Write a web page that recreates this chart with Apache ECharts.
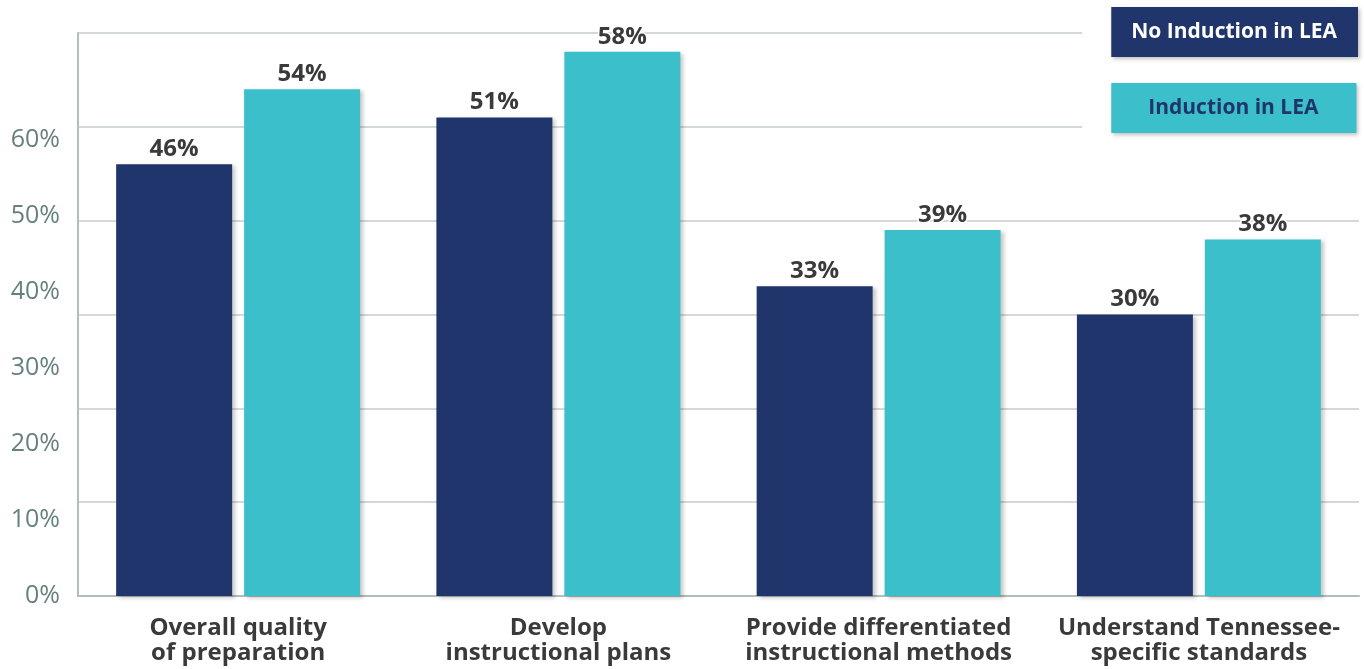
<!DOCTYPE html>
<html>
<head>
<meta charset="utf-8">
<script src="https://cdn.jsdelivr.net/npm/echarts@6/dist/echarts.min.js"></script>
<style>
html,body{margin:0;padding:0;background:#fff;}
#chart{width:1364px;height:669px;}
</style>
</head>
<body>
<div id="chart"></div>
<script>
const categories = [
  'Overall quality\nof preparation',
  'Develop\ninstructional plans',
  'Provide differentiated\ninstructional methods',
  'Understand Tennessee-\nspecific standards'
];
const seriesNames = ['No Induction in LEA', 'Induction in LEA'];
const noInduction = [46, 51, 33, 30];
const induction = [54, 58, 39, 38];
const yTickLabels = ['0%', '10%', '20%', '30%', '40%', '50%', '60%'];

const NAVY = '#1f356b';
const TEAL = '#3bbfcb';
const FONT = '"Open Sans", "Noto Sans", sans-serif';

const chart = echarts.init(document.getElementById('chart'));

const barLabel = {
  show: true,
  position: 'top',
  distance: 3,
  formatter: '{c}%',
  fontFamily: FONT,
  fontWeight: 'bold',
  fontSize: 24,
  color: '#3a3a3a',
  textBorderColor: '#fff',
  textBorderWidth: 3
};
const barShadow = {
  shadowBlur: 4,
  shadowOffsetX: 3,
  shadowOffsetY: 2,
  shadowColor: 'rgba(0,0,0,0.22)'
};

chart.setOption({
  backgroundColor: '#fff',
  animation: false,
  grid: { left: 78, right: 5, top: 33, bottom: 73, containLabel: false },
  legend: {
    orient: 'vertical',
    right: 0,
    top: 0,
    padding: [7, 6, 12, 24],
    backgroundColor: '#fff',
    itemGap: 26,
    icon: 'none',
    itemWidth: 0,
    itemHeight: 0,
    selectedMode: false,
    data: [
      {
        name: seriesNames[0],
        textStyle: {
          color: '#fff',
          backgroundColor: NAVY,
          padding: [15, 21, 15, 20],
          fontFamily: FONT, fontWeight: 'bold', fontSize: 21, lineHeight: 20,
          shadowBlur: 4, shadowOffsetX: 2, shadowOffsetY: 2, shadowColor: 'rgba(0,0,0,0.25)'
        }
      },
      {
        name: seriesNames[1],
        textStyle: {
          color: NAVY,
          backgroundColor: TEAL,
          padding: [15, 38, 15, 37],
          fontFamily: FONT, fontWeight: 'bold', fontSize: 21, lineHeight: 20,
          shadowBlur: 4, shadowOffsetX: 2, shadowOffsetY: 2, shadowColor: 'rgba(0,0,0,0.25)'
        }
      }
    ]
  },
  xAxis: {
    type: 'category',
    data: categories,
    axisLine: { show: true, lineStyle: { color: '#b3bdbc', width: 2 } },
    axisTick: { show: false },
    axisLabel: {
      interval: 0,
      margin: 20,
      fontFamily: FONT,
      fontWeight: 'bold',
      fontSize: 24,
      lineHeight: 25,
      color: '#3a3a3a',
      align: 'center'
    }
  },
  yAxis: [
    {
      type: 'value',
      min: 0,
      max: 60,
      interval: 10,
      axisLine: { show: true, lineStyle: { color: '#b3bdbc', width: 2 } },
      axisTick: { show: false },
      axisLabel: { show: false },
      splitLine: { show: true, lineStyle: { color: '#c5cccb', width: 1.5 } }
    },
    {
      type: 'value',
      position: 'left',
      min: 0,
      max: 74,
      interval: 10,
      axisLine: { show: false },
      axisTick: { show: false },
      splitLine: { show: false },
      axisLabel: {
        margin: 18,
        padding: [0, 0, 8, 0],
        fontFamily: FONT,
        fontSize: 25,
        color: '#668080',
        showMaxLabel: false,
        formatter: function (v) {
          const i = Math.round(v / 10);
          return i < yTickLabels.length ? yTickLabels[i] : '';
        }
      }
    }
  ],
  series: [
    {
      name: seriesNames[0],
      type: 'bar',
      data: noInduction,
      barWidth: 116,
      barGap: '10.3%',
      itemStyle: Object.assign({ color: NAVY }, barShadow),
      label: barLabel
    },
    {
      name: seriesNames[1],
      type: 'bar',
      data: induction,
      barWidth: 116,
      barGap: '10.3%',
      itemStyle: Object.assign({ color: TEAL }, barShadow),
      label: barLabel
    }
  ]
});
</script>
</body>
</html>
